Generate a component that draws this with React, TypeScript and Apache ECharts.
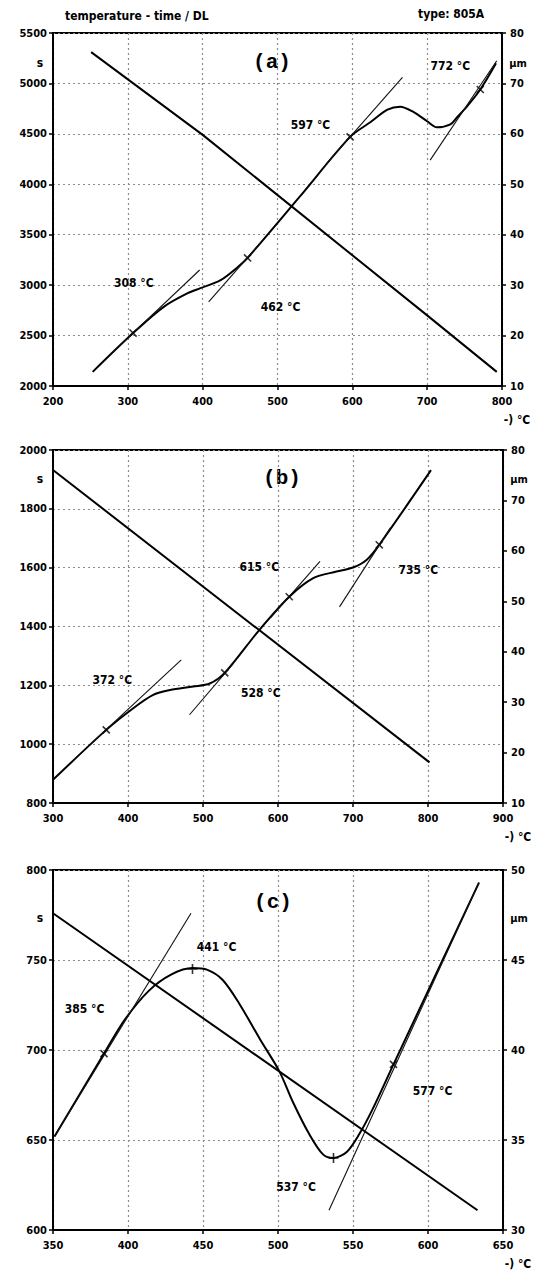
import React, { useEffect, useRef } from "react";
import * as echarts from "echarts";

// ---------- Panel (a) ----------
const aTimeLine = [[251, 5310], [400, 4490], [700, 2700], [793, 2140]];
const aDL = [[253, 12.8], [307, 20.5], [348, 25.7], [380, 28.4], [397, 29.4], [424, 31.0], [447, 33.6], [460, 35.4], [530, 47.6], [597, 59.4], [624, 62.3], [647, 64.8], [664, 65.4], [681, 64.4], [700, 62.5], [713, 61.3], [731, 61.9], [740, 63.3], [753, 65.4], [771, 68.8], [792, 74.0]];
const aMarkers = [[307, 20.5], [460, 35.4], [597, 59.4], [771, 68.8]];
const aTangents = [[[280, 16.7], [396, 33.0]], [[408, 26.7], [478, 38.5]], [[565, 54.0], [667, 71.2]], [[704, 54.8], [793, 74.5]]];
const aLabelText = ["308 °C", "462 °C", "597 °C", "772 °C"];
const aLabelPos = [[308, 30.4], [504, 25.7], [544, 61.8], [731, 73.5]];

// ---------- Panel (b) ----------
const bTimeLine = [[300, 1932], [802, 938]];
const bDL = [[300, 14.6], [371, 24.5], [407, 28.8], [433, 31.4], [456, 32.4], [487, 33.1], [509, 33.7], [529, 35.8], [575, 44.3], [615, 50.9], [647, 54.6], [678, 55.9], [700, 56.7], [718, 58.2], [735, 61.2], [804, 76.0]];
const bMarkers = [[371, 24.5], [529, 35.8], [615, 50.9], [735, 61.2]];
const bTangents = [[[345, 21.0], [471, 38.4]], [[482, 27.5], [540, 37.6]], [[590, 46.7], [656, 57.9]], [[682, 48.9], [750, 64.6]]];
const bLabelText = ["372 °C", "528 °C", "615 °C", "735 °C"];
const bLabelPos = [[379, 34.4], [577, 31.8], [575, 56.8], [787, 56.2]];

// ---------- Panel (c) ----------
const cTimeLine = [[350, 776], [633, 611]];
const cDL = [[351, 35.2], [384, 39.8], [398, 41.7], [414, 43.3], [429, 44.2], [443, 44.55], [453, 44.45], [463, 43.9], [474, 42.6], [488, 40.6], [501, 38.8], [510, 37.1], [521, 35.3], [530, 34.2], [537, 34.0], [546, 34.35], [554, 35.3], [563, 36.7], [577, 39.2], [634, 49.3]];
const cMarkers = [[384, 39.8], [443, 44.5], [537, 34.0], [577, 39.2]];
const cTangents = [[[351, 35.2], [442, 47.6]], [[534, 31.1], [634, 49.3]]];
const cLabelText = ["385 °C", "441 °C", "537 °C", "577 °C"];
const cLabelPos = [[371, 42.3], [459, 45.7], [512, 32.4], [603, 37.7]];

// axis ranges [min, max, interval]
const xRanges = [[200, 800, 100], [300, 900, 100], [350, 650, 50]];
const leftRanges = [[2000, 5500, 500], [800, 2000, 200], [600, 800, 50]];
const rightRanges = [[10, 80, 10], [10, 80, 10], [30, 50, 5]];

const titleText = "temperature - time / DL";
const typeText = "type: 805A";
const tags = ["(a)", "(b)", "(c)"];

const FONT = "'DejaVu Sans Condensed', 'Liberation Sans Narrow', 'DejaVu Sans', sans-serif";
const MONO = "'Liberation Mono', 'DejaVu Sans Mono', monospace";

const grids = [
  { left: 53, top: 33, width: 449, height: 353 },
  { left: 53, top: 450, width: 450, height: 353 },
  { left: 53, top: 870, width: 450, height: 360 },
];
const unitDy = [30, 29, 48];
const tagX = [272, 282, 273];
const tagDy = [29, 28, 32];

const panels = [
  { time: aTimeLine, dl: aDL, markers: aMarkers, rot: [45, 45, 45, 45], tangents: aTangents, texts: aLabelText, pos: aLabelPos },
  { time: bTimeLine, dl: bDL, markers: bMarkers, rot: [45, 45, 45, 45], tangents: bTangents, texts: bLabelText, pos: bLabelPos },
  { time: cTimeLine, dl: cDL, markers: cMarkers, rot: [45, 0, 0, 45], tangents: cTangents, texts: cLabelText, pos: cLabelPos },
];

const axisLabelStyle = { fontFamily: FONT, fontWeight: "bold", fontSize: 11, color: "#000", formatter: (v: number) => String(v) };
const splitStyle = { show: true, lineStyle: { type: [2, 3], color: "#8c8c8c", width: 1.2 } };
const blackLine = { show: true, onZero: false, lineStyle: { color: "#000", width: 2 } };

function buildOption() {
  const grid = grids.map((g) => ({ ...g, show: true, borderColor: "#000", borderWidth: 2, backgroundColor: "transparent" }));
  const xAxis = xRanges.map((r, i) => ({
    type: "value", gridIndex: i, min: r[0], max: r[1], interval: r[2],
    axisLine: blackLine,
    axisTick: { show: true, length: 4, lineStyle: { color: "#000", width: 1.5 } },
    axisLabel: { ...axisLabelStyle, margin: 10 },
    splitLine: splitStyle,
  }));
  const yAxis: any[] = [];
  leftRanges.forEach((r, i) => {
    yAxis.push({
      type: "value", gridIndex: i, position: "left", min: r[0], max: r[1], interval: r[2],
      axisLine: blackLine,
      axisTick: { show: true, length: 4, lineStyle: { color: "#000", width: 1.5 } },
      axisLabel: { ...axisLabelStyle, margin: 6 },
      splitLine: splitStyle,
    });
    const rr = rightRanges[i];
    yAxis.push({
      type: "value", gridIndex: i, position: "right", min: rr[0], max: rr[1], interval: rr[2],
      axisLine: blackLine,
      axisTick: { show: true, length: 4, lineStyle: { color: "#000", width: 1.5 } },
      axisLabel: { ...axisLabelStyle, margin: 8 },
      splitLine: { show: false },
    });
  });

  const series: any[] = [];
  panels.forEach((p, i) => {
    series.push({
      type: "line", xAxisIndex: i, yAxisIndex: 2 * i, data: p.time, showSymbol: false,
      lineStyle: { color: "#000", width: 2 }, silent: true,
    });
    series.push({
      type: "line", xAxisIndex: i, yAxisIndex: 2 * i + 1, data: p.dl, showSymbol: false, smooth: 0.3,
      lineStyle: { color: "#000", width: 2 }, silent: true,
    });
    p.tangents.forEach((t) => {
      series.push({
        type: "line", xAxisIndex: i, yAxisIndex: 2 * i + 1, data: t, showSymbol: false,
        lineStyle: { color: "#111", width: 1.1 }, silent: true,
      });
    });
    series.push({
      type: "scatter", xAxisIndex: i, yAxisIndex: 2 * i + 1,
      data: p.markers.map((m, k) => ({ value: m, symbolRotate: p.rot[k] })),
      symbol: "path://M5,0L5,10M0,5L10,5", symbolSize: 10,
      itemStyle: { color: "none", borderColor: "#000", borderWidth: 1.6 }, silent: true,
    });
    series.push({
      type: "scatter", xAxisIndex: i, yAxisIndex: 2 * i + 1,
      data: p.pos.map((q, k) => ({ value: q, name: p.texts[k] })),
      symbolSize: 1, itemStyle: { color: "transparent" }, silent: true,
      label: { show: true, position: "inside", formatter: "{b}", fontFamily: FONT, fontWeight: "bold", fontSize: 12, color: "#000", textBorderWidth: 0, opacity: 1 },
    });
  });

  const graphic: any[] = [
    { type: "text", left: 65, top: 10, style: { text: titleText, font: `bold 12px ${FONT}`, fill: "#000" } },
    { type: "text", left: 418, top: 8, style: { text: typeText, font: `bold 12px ${FONT}`, fill: "#000" } },
  ];
  grids.forEach((g, i) => {
    graphic.push({ type: "text", x: g.left - 13, y: g.top + unitDy[i], style: { text: "s", font: `bold 12px ${FONT}`, fill: "#000", align: "center", verticalAlign: "middle" } });
    graphic.push({ type: "text", x: g.left + g.width + 16, y: g.top + unitDy[i], style: { text: "µm", font: `bold 11px ${FONT}`, fill: "#000", align: "center", verticalAlign: "middle" } });
    graphic.push({ type: "text", x: tagX[i], y: g.top + tagDy[i], style: { text: tags[i], font: `bold 21px ${MONO}`, fill: "#000", align: "center", verticalAlign: "middle" } });
    graphic.push({ type: "text", x: g.left + g.width + 15, y: g.top + g.height + 34, style: { text: "-) °C", font: `bold 12px ${FONT}`, fill: "#000", align: "center", verticalAlign: "middle" } });
  });

  return { animation: false, backgroundColor: "#fff", grid, xAxis, yAxis, series, graphic };
}

export default function App() {
  const ref = useRef<HTMLDivElement>(null);
  useEffect(() => {
    document.body.style.margin = "0";
    const chart = echarts.init(ref.current!, null, { renderer: "svg" });
    chart.setOption(buildOption() as any);
    return () => chart.dispose();
  }, []);
  return <div ref={ref} style={{ width: 539, height: 1284, position: "absolute", left: 0, top: 0 }} />;
}
